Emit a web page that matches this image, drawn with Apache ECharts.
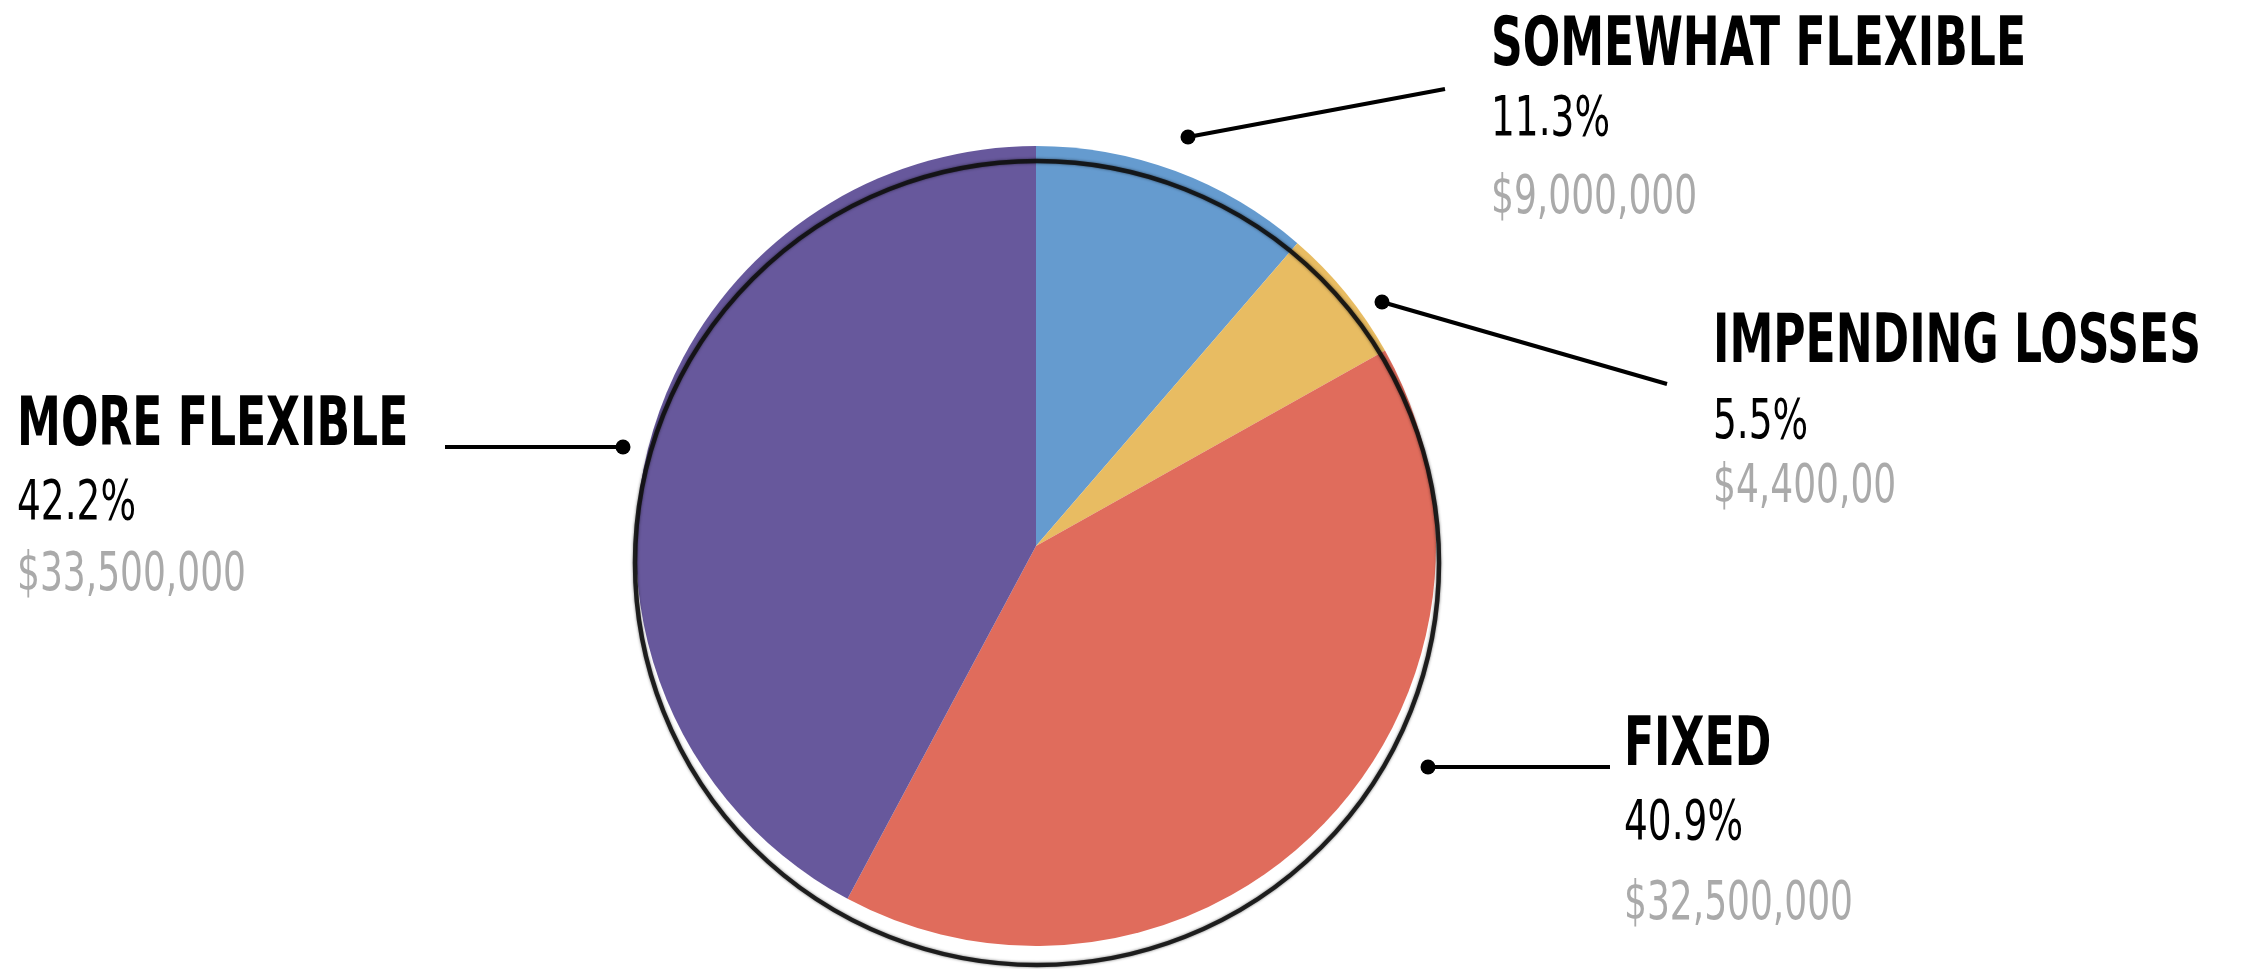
<!DOCTYPE html>
<html>
<head>
<meta charset="utf-8">
<title>Budget flexibility</title>
<script src="https://cdn.jsdelivr.net/npm/echarts@6/dist/echarts.min.js"></script>
<style>
html, body { margin: 0; padding: 0; background: #fff; }
#main { width: 2244px; height: 969px; }
</style>
</head>
<body>
<div id="main"></div>
<script>
// slices, clockwise from 12 o'clock
const categories = ['SOMEWHAT FLEXIBLE', 'IMPENDING LOSSES', 'FIXED', 'MORE FLEXIBLE'];
const values = [9000000, 4400000, 32500000, 33500000];
const moneyLabels = ['$9,000,000', '$4,400,00', '$32,500,000', '$33,500,000'];
const colors = ['#659bcf', '#e8bc62', '#e06c5c', '#67589c'];

const total = values.reduce((a, b) => a + b, 0);
const pctLabels = values.map(v => (v / total * 100).toFixed(1) + '%');

// callout placement: text left x, centre y of the three rows, leader line (dot end first)
const callouts = [
  { x: 1491, ys: [47, 121, 199], line: [[1188, 137], [1445, 89]] },
  { x: 1713, ys: [344, 424, 488], line: [[1382, 302], [1667, 384]] },
  { x: 1624, ys: [747, 825, 905], line: [[1428, 767], [1610, 767]] },
  { x: 17, ys: [427, 505, 576], line: [[623, 447], [445, 447]] }
];

// no condensed display face here: stretch a narrow one to get near the original look
const FONT = "'Liberation Sans Narrow', 'DejaVu Sans Condensed', Arial, sans-serif";
const ctx = document.createElement('canvas').getContext('2d');
function measure(txt, weight, size) {
  ctx.font = weight + ' ' + size + 'px ' + FONT;
  return ctx.measureText(txt).width;
}
const stretch = 1.28;
const titleSize = 53, pctSize = 43, moneySize = 41;
const titleScale = 535 / measure('SOMEWHAT FLEXIBLE', 'bold', titleSize);
const pctScale = 119 / measure('42.2%', '500', pctSize);
const moneyScale = 229 / measure('$33,500,000', 'normal', moneySize);

function textEl(txt, x, y, weight, size, scale, color) {
  return {
    type: 'text', x: x, y: y, scaleX: scale, scaleY: stretch, z: 20,
    style: {
      text: txt, x: 0, y: 0,
      font: weight + ' ' + size + 'px ' + FONT,
      fill: color, textAlign: 'left', textVerticalAlign: 'middle'
    }
  };
}

const graphics = [];
// the slightly offset dark ring round the pie
graphics.push({
  type: 'circle', z: 15,
  shape: { cx: 1037, cy: 563, r: 402 },
  style: { fill: null, stroke: '#111', lineWidth: 4.5, shadowBlur: 3, shadowColor: 'rgba(0,0,0,0.6)', opacity: 0.9 }
});
callouts.forEach((c, i) => {
  graphics.push({
    type: 'polyline', z: 20,
    shape: { points: c.line },
    style: { stroke: '#000', lineWidth: 4, fill: null }
  });
  graphics.push({
    type: 'circle', z: 20,
    shape: { cx: c.line[0][0], cy: c.line[0][1], r: 7.5 },
    style: { fill: '#000' }
  });
  graphics.push(textEl(categories[i], c.x, c.ys[0], 'bold', titleSize, titleScale, '#000'));
  graphics.push(textEl(pctLabels[i], c.x, c.ys[1], '500', pctSize, pctScale, '#000'));
  graphics.push(textEl(moneyLabels[i], c.x, c.ys[2], 'normal', moneySize, moneyScale, '#aaaaaa'));
});

const myChart = echarts.init(document.getElementById('main'));
const option = {
  animation: false,
  backgroundColor: '#fff',
  series: [{
    type: 'pie',
    center: [1036, 546],
    radius: 400,
    startAngle: 90,
    clockwise: true,
    label: { show: false },
    labelLine: { show: false },
    emphasis: { disabled: true },
    itemStyle: { borderWidth: 0 },
    data: categories.map((name, i) => ({
      name: name,
      value: values[i],
      itemStyle: { color: colors[i] }
    }))
  }],
  graphic: graphics
};
myChart.setOption(option);
</script>
</body>
</html>
